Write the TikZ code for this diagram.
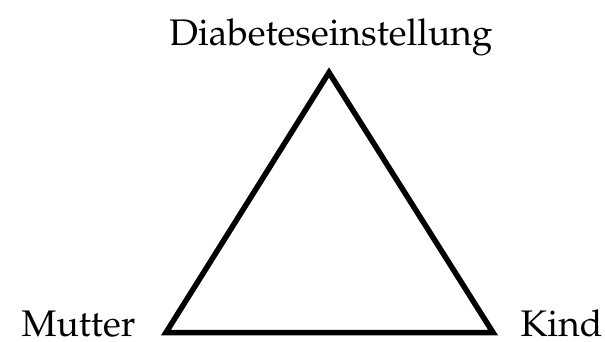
\documentclass[tikz,border=0pt]{standalone}
\usepackage[T1]{fontenc}
\usepackage{mathpazo}
\begin{document}
\begin{tikzpicture}[yscale=-1
,tstyle0/.style={color=black,line width=5.5pt,line join=miter}
,lstyle0/.style={color=black,inner sep=0,anchor=base,font=\fontsize{37}{40}\selectfont}
]
\useasboundingbox (0pt,0pt) rectangle (605pt,341pt);
\coordinate (apex) at (329pt,72.5pt);
\coordinate (left) at (166pt,332.5pt);
\coordinate (right) at (493pt,332.5pt);
\draw[tstyle0] (apex) -- (right) -- (left) -- cycle;
\node (diab) at (331pt,45pt)[lstyle0]{Diabeteseinstellung};
\node (mutter) at (78.5pt,336.5pt)[lstyle0]{Mutter};
\node (kind) at (561.5pt,336.5pt)[lstyle0]{Kind};
\end{tikzpicture}
\end{document}
